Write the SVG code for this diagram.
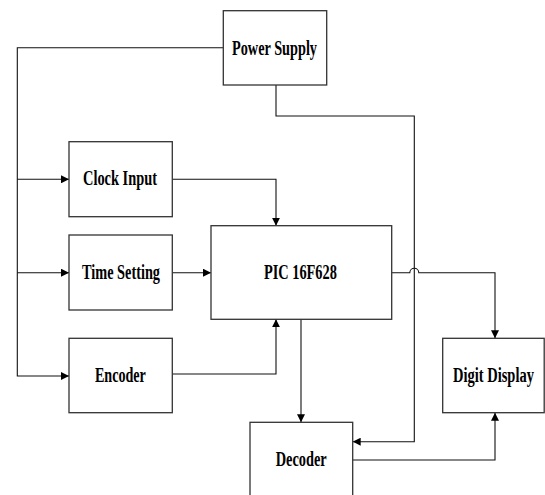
<svg xmlns="http://www.w3.org/2000/svg" width="545" height="495" viewBox="0 0 545 495">
<style>
.box{fill:#fff;stroke:#333;stroke-width:1.3}
.lbl{font-family:"Liberation Serif","Times New Roman",serif;font-weight:bold;font-size:21px;fill:#000;text-anchor:middle}
.ln{fill:none;stroke:#111;stroke-width:1.1}
</style>
<defs>
<marker id="ah" viewBox="0 0 10 10" refX="10" refY="5" markerWidth="8" markerHeight="8" markerUnits="userSpaceOnUse" orient="auto">
<path d="M0,0 L10,5 L0,10 Z" fill="#000"/>
</marker>
</defs>
<rect width="545" height="495" fill="#fff"/>
<g id="connectors">
<path class="ln" d="M223.3,47.7 H17.3 V376 H69" marker-end="url(#ah)"/>
<path class="ln" d="M17.3,179.3 H69" marker-end="url(#ah)"/>
<path class="ln" d="M17.3,272.7 H69" marker-end="url(#ah)"/>
<path class="ln" d="M172.3,179.3 H276 V225.7" marker-end="url(#ah)"/>
<path class="ln" d="M172.3,272.7 H211" marker-end="url(#ah)"/>
<path class="ln" d="M172.3,374 H276 V319.3" marker-end="url(#ah)"/>
<path class="ln" d="M301,319.3 V422.3" marker-end="url(#ah)"/>
<path class="ln" d="M276,85 V116 H414.3 V441.7 H352.7" marker-end="url(#ah)"/>
<path class="ln" d="M391.7,272.7 H409.8 A4.5,4.5 0 0 1 418.8,272.7 H495 V338.3" marker-end="url(#ah)"/>
<path class="ln" d="M352.7,460 H495 V412.7" marker-end="url(#ah)"/>
</g>
<g id="power-supply">
<rect class="box" x="223.3" y="10.7" width="103.4" height="74.3"/>
<text class="lbl" x="274.5" y="55" textLength="85" lengthAdjust="spacingAndGlyphs">Power Supply</text>
</g>
<g id="clock-input">
<rect class="box" x="69" y="141.7" width="103.3" height="75"/>
<text class="lbl" x="120" y="185" textLength="74" lengthAdjust="spacingAndGlyphs">Clock Input</text>
</g>
<g id="time-setting">
<rect class="box" x="69" y="235" width="103.3" height="75"/>
<text class="lbl" x="121" y="278.5" textLength="78" lengthAdjust="spacingAndGlyphs">Time Setting</text>
</g>
<g id="pic">
<rect class="box" x="211" y="225.7" width="180.7" height="93.6"/>
<text class="lbl" x="300.4" y="279" textLength="73" lengthAdjust="spacingAndGlyphs">PIC 16F628</text>
</g>
<g id="encoder">
<rect class="box" x="69" y="338.3" width="103.3" height="74.4"/>
<text class="lbl" x="120.4" y="381.7" textLength="51" lengthAdjust="spacingAndGlyphs">Encoder</text>
</g>
<g id="decoder">
<rect class="box" x="250" y="422.3" width="102.7" height="80"/>
<text class="lbl" x="301.2" y="465.7" textLength="51" lengthAdjust="spacingAndGlyphs">Decoder</text>
</g>
<g id="digit-display">
<rect class="box" x="442.7" y="338.3" width="101.5" height="74.4"/>
<text class="lbl" transform="translate(493.5,381.7) scale(0.69,1)" x="0" y="0">Digit Display</text>
</g>
</svg>
